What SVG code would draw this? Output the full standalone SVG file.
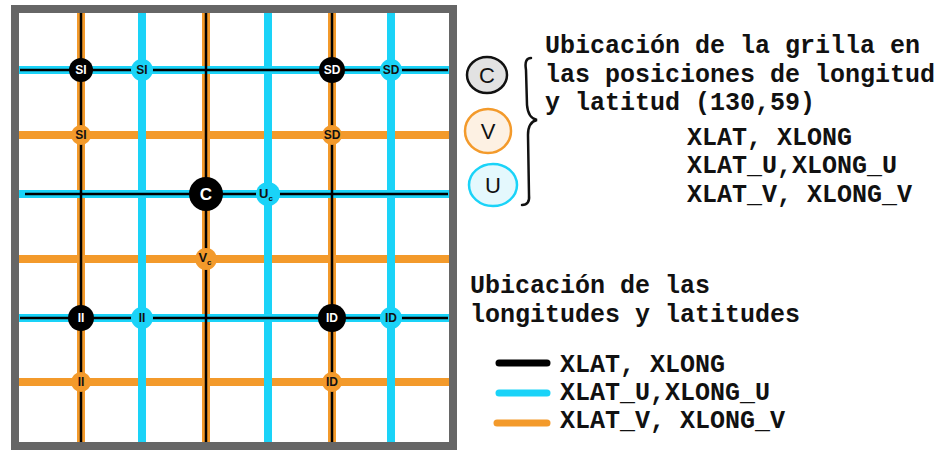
<svg xmlns="http://www.w3.org/2000/svg" width="952" height="450" viewBox="0 0 952 450">
<style>
.or{stroke:#F39A2B;stroke-width:8;fill:none}
.cy{stroke:#1AD3F8;stroke-width:8;fill:none}
.bk{stroke:#000;stroke-width:2.5;fill:none}
.nb{fill:#000}
.nc{fill:#1AD3F8}
.no{fill:#F39A2B}
.lw{font-family:"Liberation Sans",Arial,sans-serif;font-weight:bold;font-size:12px;fill:#fff;text-anchor:middle}
.ld{font-family:"Liberation Sans",Arial,sans-serif;font-weight:bold;font-size:12px;fill:#111;text-anchor:middle}
.t{font-family:"Liberation Mono","Courier New",monospace;font-weight:bold;font-size:25px;fill:#111}
</style>
<rect width="952" height="450" fill="#fff"/>
<rect x="15" y="9" width="438" height="437" fill="#fff" stroke="#666" stroke-width="8"/>
<g id="connectors">
<g class="or">
<line x1="19" y1="135" x2="449" y2="135"/>
<line x1="19" y1="259" x2="449" y2="259"/>
<line x1="19" y1="382" x2="449" y2="382"/>
<line x1="81" y1="13" x2="81" y2="442"/>
<line x1="206" y1="13" x2="206" y2="442"/>
<line x1="332" y1="13" x2="332" y2="442"/>
</g>
<g class="cy">
<line x1="19" y1="70" x2="449" y2="70"/>
<line x1="19" y1="194" x2="449" y2="194"/>
<line x1="19" y1="318" x2="449" y2="318"/>
<line x1="142" y1="13" x2="142" y2="442"/>
<line x1="268" y1="13" x2="268" y2="442"/>
<line x1="391" y1="13" x2="391" y2="442"/>
</g>
<g class="bk">
<line x1="20" y1="70" x2="448" y2="70"/>
<line x1="25" y1="194" x2="448" y2="194"/>
<line x1="20" y1="318" x2="448" y2="318"/>
<line x1="81" y1="13" x2="81" y2="442"/>
<line x1="206" y1="13" x2="206" y2="442"/>
<line x1="332" y1="13" x2="332" y2="442"/>
</g>
</g>
<g id="n-si-c"><circle class="nb" cx="81" cy="70" r="12"/><text class="lw" x="81" y="74">SI</text></g>
<g id="n-sd-c"><circle class="nb" cx="332" cy="70" r="13"/><text class="lw" x="332" y="74">SD</text></g>
<g id="n-c"><circle class="nb" cx="206" cy="194" r="17"/><text class="lw" x="206" y="200" style="font-size:17px">C</text></g>
<g id="n-ii-c"><circle class="nb" cx="81" cy="318" r="13"/><text class="lw" x="81" y="322">II</text></g>
<g id="n-id-c"><circle class="nb" cx="332" cy="318" r="14"/><text class="lw" x="332" y="322">ID</text></g>
<g id="n-si-u"><circle class="nc" cx="142" cy="70" r="11"/><text class="ld" x="142" y="74">SI</text></g>
<g id="n-sd-u"><circle class="nc" cx="391" cy="70" r="11"/><text class="ld" x="391" y="74">SD</text></g>
<g id="n-u"><circle class="nc" cx="268" cy="194" r="12"/><text class="ld" x="266" y="198" style="font-size:13px">U<tspan style="font-size:8px" dy="3">c</tspan></text></g>
<g id="n-ii-u"><circle class="nc" cx="142" cy="318" r="11"/><text class="ld" x="142" y="322">II</text></g>
<g id="n-id-u"><circle class="nc" cx="391" cy="318" r="11"/><text class="ld" x="391" y="322">ID</text></g>
<g id="n-si-v"><circle class="no" cx="81" cy="135" r="10"/><text class="ld" x="81" y="139">SI</text></g>
<g id="n-sd-v"><circle class="no" cx="332" cy="135" r="10"/><text class="ld" x="332" y="139">SD</text></g>
<g id="n-v"><circle class="no" cx="206" cy="259" r="11"/><text class="ld" x="205" y="262" style="font-size:13px">V<tspan style="font-size:8px" dy="3">c</tspan></text></g>
<g id="n-ii-v"><circle class="no" cx="81" cy="382" r="10"/><text class="ld" x="81" y="386">II</text></g>
<g id="n-id-v"><circle class="no" cx="332" cy="382" r="10"/><text class="ld" x="332" y="386">ID</text></g>
<g id="legend-points">
<ellipse cx="487" cy="75" rx="20" ry="18" fill="#e2e2e2" stroke="#111" stroke-width="2.5"/>
<text x="487" y="83" style="font-family:'Liberation Sans',Arial,sans-serif;font-size:22px;fill:#111;text-anchor:middle">C</text>
<ellipse cx="488" cy="131" rx="23" ry="22" fill="#fdf1e3" stroke="#F39A2B" stroke-width="2.5"/>
<text x="488" y="139" style="font-family:'Liberation Sans',Arial,sans-serif;font-size:22px;fill:#111;text-anchor:middle">V</text>
<ellipse cx="493" cy="185" rx="24" ry="21" fill="#e4f8fd" stroke="#1AD3F8" stroke-width="2.5"/>
<text x="493" y="193" style="font-family:'Liberation Sans',Arial,sans-serif;font-size:22px;fill:#111;text-anchor:middle">U</text>
<path d="M531 58 Q524 58 526 70 L527 105 Q528 118 537 120 Q528 122 528 135 L529 195 Q530 205 522 205" fill="none" stroke="#111" stroke-width="2.5" stroke-linecap="round"/>
</g>
<g id="texts" class="t">
<text x="545" y="53">Ubicación de la grilla en</text>
<text x="545" y="82">las posiciones de longitud</text>
<text x="545" y="110">y latitud (130,59)</text>
<text x="687" y="145">XLAT, XLONG</text>
<text x="687" y="173">XLAT_U,XLONG_U</text>
<text x="687" y="202">XLAT_V, XLONG_V</text>
<text x="470" y="293">Ubicación de las</text>
<text x="470" y="322">longitudes y latitudes</text>
<text x="560" y="372">XLAT, XLONG</text>
<text x="560" y="400">XLAT_U,XLONG_U</text>
<text x="560" y="428">XLAT_V, XLONG_V</text>
</g>
<g id="legend-lines" stroke-width="7" stroke-linecap="round">
<line x1="499" y1="363" x2="547" y2="363" stroke="#000"/>
<line x1="499" y1="393" x2="547" y2="393" stroke="#1AD3F8"/>
<line x1="497" y1="423" x2="547" y2="423" stroke="#F39A2B"/>
</g>
</svg>
